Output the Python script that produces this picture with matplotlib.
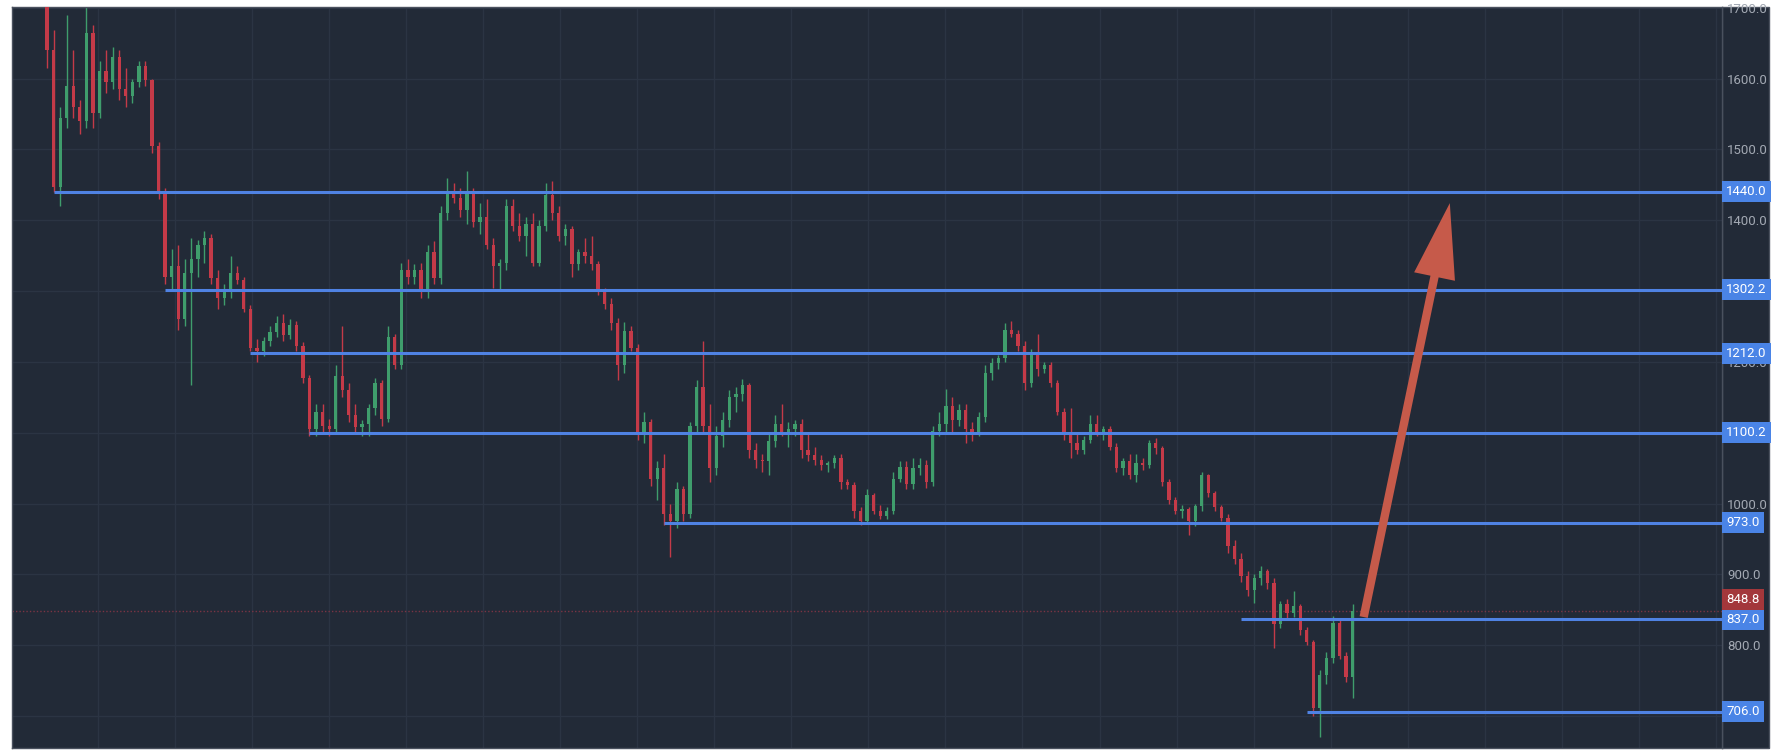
import matplotlib
matplotlib.use("Agg")
import matplotlib.pyplot as plt
from matplotlib.patches import FancyArrowPatch, Rectangle
import numpy as np

# daily candles (open of each candle = previous close)
first_open = 1720.0
closes = [1640, 1447, 1545, 1590, 1560, 1540, 1665, 1552, 1610, 1595,
          1630, 1585, 1575, 1595, 1618, 1598, 1505, 1440, 1320, 1335,
          1260, 1325, 1345, 1365, 1375, 1318, 1290, 1300, 1325, 1315,
          1275, 1220, 1215, 1230, 1242, 1255, 1238, 1252, 1222, 1178,
          1105, 1130, 1110, 1105, 1180, 1160, 1125, 1108, 1112, 1135,
          1170, 1120, 1235, 1195, 1330, 1320, 1330, 1300, 1355, 1318,
          1410, 1440, 1432, 1415, 1440, 1398, 1405, 1365, 1335, 1340,
          1420, 1392, 1378, 1395, 1340, 1392, 1435, 1410, 1378, 1388,
          1338, 1355, 1350, 1338, 1300, 1282, 1255, 1195, 1243, 1220,
          1098, 1115, 1035, 1050, 985, 975, 1020, 985, 1110, 1165,
          1110, 1050, 1095, 1118, 1150, 1155, 1168, 1075, 1062, 1060,
          1088, 1112, 1100, 1105, 1112, 1075, 1068, 1062, 1055, 1058,
          1064, 1030, 1026, 990, 976, 1012, 990, 982, 990, 1035,
          1052, 1028, 1050, 1055, 1030, 1102, 1112, 1138, 1118, 1132,
          1105, 1098, 1122, 1185, 1198, 1205, 1245, 1240, 1222, 1170,
          1210, 1190, 1195, 1170, 1130, 1098, 1085, 1075, 1090, 1112,
          1100, 1105, 1080, 1050, 1060, 1040, 1058, 1055, 1085, 1078,
          1030, 1005, 990, 992, 975, 996, 1040, 1015, 995, 980,
          940, 922, 898, 878, 895, 905, 888, 830, 858, 845,
          855, 822, 805, 712, 758, 782, 832, 785, 755, 848.8]
highs = [1740, 1668, 1560, 1690, 1640, 1570, 1704, 1675, 1625, 1640,
         1645, 1640, 1615, 1600, 1625, 1625, 1600, 1510, 1445, 1360,
         1365, 1345, 1375, 1372, 1385, 1380, 1330, 1310, 1350, 1335,
         1320, 1280, 1232, 1235, 1250, 1265, 1268, 1260, 1258, 1228,
         1182, 1140, 1140, 1120, 1195, 1250, 1170, 1140, 1118, 1140,
         1178, 1175, 1250, 1240, 1340, 1345, 1338, 1340, 1365, 1370,
         1420, 1460, 1452, 1445, 1470, 1445, 1425, 1430, 1375, 1345,
         1430, 1430, 1410, 1405, 1410, 1400, 1452, 1455, 1420, 1395,
         1392, 1360, 1375, 1378, 1342, 1305, 1290, 1262, 1257, 1250,
         1225, 1130, 1120, 1060, 1070, 1000, 1030, 1025, 1115, 1175,
         1230, 1140, 1110, 1130, 1160, 1165, 1176, 1170, 1085, 1070,
         1100, 1125, 1140, 1115, 1118, 1120, 1100, 1080, 1068, 1060,
         1068, 1070, 1035, 1030, 995, 1020, 1015, 998, 995, 1045,
         1060, 1060, 1065, 1065, 1062, 1110, 1130, 1162, 1150, 1140,
         1140, 1115, 1130, 1195, 1205, 1210, 1255, 1258, 1245, 1230,
         1218, 1240, 1200, 1200, 1175, 1135, 1135, 1100, 1095, 1125,
         1125, 1110, 1110, 1085, 1065, 1070, 1070, 1065, 1090, 1092,
         1082, 1035, 1010, 998, 995, 1000, 1045, 1042, 1018, 998,
         985, 948, 930, 905, 900, 912, 908, 895, 862, 866,
         876, 858, 826, 808, 765, 790, 842, 838, 790, 858]
lows = [1615, 1440, 1420, 1530, 1545, 1522, 1530, 1530, 1545, 1580,
        1585, 1570, 1560, 1565, 1588, 1590, 1495, 1430, 1310, 1300,
        1245, 1250, 1167, 1320, 1340, 1310, 1275, 1280, 1290, 1310,
        1270, 1215, 1200, 1208, 1222, 1235, 1230, 1232, 1215, 1170,
        1095, 1095, 1100, 1095, 1100, 1150, 1115, 1100, 1095, 1096,
        1125, 1110, 1115, 1190, 1190, 1310, 1310, 1290, 1290, 1310,
        1310, 1400, 1425, 1405, 1395, 1390, 1380, 1360, 1305, 1302,
        1330, 1385, 1370, 1350, 1335, 1335, 1385, 1400, 1370, 1365,
        1320, 1330, 1340, 1330, 1295, 1275, 1245, 1175, 1185, 1215,
        1090, 1085, 1025, 1005, 970, 925, 965, 975, 980, 1100,
        1100, 1030, 1040, 1080, 1108, 1130, 1145, 1065, 1050, 1045,
        1040, 1080, 1095, 1080, 1095, 1065, 1060, 1055, 1048, 1045,
        1050, 1020, 1020, 980, 970, 972, 985, 978, 978, 985,
        1030, 1020, 1020, 1040, 1022, 1025, 1095, 1100, 1100, 1110,
        1085, 1088, 1095, 1115, 1175, 1190, 1200, 1235, 1215, 1160,
        1165, 1180, 1185, 1165, 1125, 1090, 1065, 1070, 1070, 1085,
        1095, 1090, 1075, 1045, 1040, 1035, 1030, 1048, 1050, 1070,
        1025, 1000, 985, 980, 955, 968, 990, 1010, 990, 975,
        930, 915, 890, 870, 860, 885, 880, 796, 825, 838,
        840, 815, 800, 700, 671, 745, 775, 780, 748, 725]

# horizontal support / resistance rays: price and the candle they start from
levels = [1440.0, 1302.2, 1212.0, 1100.2, 973.0, 837.0, 706.0]
level_starts = [1, 18, 31, 40, 94, 182, 192]
last_price = 848.8
price_ticks = [700, 800, 900, 1000, 1100, 1200, 1300, 1400, 1500, 1600, 1700]

# projected move arrow (candle index, price)
arrow_start = (200.6, 836.0)
arrow_end = (213.9, 1428.0)

BG = "#222a37"
GRID = "#2b3443"
UP = "#3f9d6c"
DOWN = "#c43a48"
BLUE = "#4f82e3"
LABEL_BLUE = "#4a84e6"
LAST_RED = "#a3373b"
ARROW = "#c65a4a"

plt.rcParams["font.family"] = ["Liberation Sans Narrow", "Roboto", "DejaVu Sans"]

W, H = 1778, 754
fig = plt.figure(figsize=(W / 100, H / 100), dpi=100, facecolor="white")

# plot area in pixels: x 12..1722, y 7..748
ax = fig.add_axes([12 / W, (H - 748) / H, 1710 / W, 741 / H])
ax.set_facecolor(BG)

# price scale strip on the right
fig.add_artist(Rectangle((1722 / W, (H - 748) / H), 47 / W, 741 / H,
                         transform=fig.transFigure, facecolor=BG,
                         edgecolor="#4a515e", linewidth=1, zorder=0))

x_left, x_right = -5.34, 255.3
ax.set_xlim(x_left, x_right)
ax.set_ylim(655, 1701)

closes = np.array(closes, dtype=float)
highs = np.array(highs, dtype=float)
lows = np.array(lows, dtype=float)
opens = np.concatenate([[first_open], closes[:-1]])
idx = np.arange(len(closes))
colors = np.where(closes >= opens, UP, DOWN)

# grid
ax.set_xticks(np.arange(7.8, x_right, 11.74))
ax.set_yticks(price_ticks)
ax.grid(True, color=GRID, linewidth=1)
ax.set_axisbelow(True)

# candles
ax.vlines(idx, lows, highs, colors=colors, linewidth=1.0, zorder=2)
body = np.maximum(np.abs(closes - opens), 1.5)
ax.bar(idx, body, bottom=np.minimum(opens, closes), width=0.5,
       color=colors, linewidth=0, zorder=3)

# last price dotted line
ax.axhline(last_price, color="#7a3444", linestyle=(0, (1, 1.5)),
           linewidth=1, zorder=1.5)

# level rays
ax.hlines(levels, level_starts, x_right, colors=BLUE, linewidth=2.2, zorder=4)

# arrow
arrow = FancyArrowPatch(arrow_start, arrow_end,
                        arrowstyle="simple,head_length=54,head_width=30,tail_width=6",
                        mutation_scale=1, color=ARROW, linewidth=0,
                        capstyle="round", zorder=6)
ax.add_patch(arrow)

# price axis on the right
ax.yaxis.tick_right()
ax.set_yticklabels([f"{v:.1f}" for v in price_ticks])
ax.tick_params(axis="y", length=0, pad=3.6, labelsize=9.5, labelcolor="#a3a9b3")
ax.tick_params(axis="x", length=0, labelbottom=False)
for side, sp in ax.spines.items():
    sp.set_color("#4a515e")
    sp.set_linewidth(1)

trans = ax.get_yaxis_transform()
for lvl in levels:
    ax.text(1.0025, lvl, f"{lvl:.1f}", transform=trans, ha="left", va="center",
            color="white", fontsize=9.5, clip_on=False, zorder=10,
            bbox=dict(boxstyle="square,pad=0.3", fc=LABEL_BLUE, ec="none"))
ax.text(1.0025, last_price + 16, f"{last_price:.1f}", transform=trans, ha="left",
        va="center", color="white", fontsize=9.5, clip_on=False, zorder=10,
        bbox=dict(boxstyle="square,pad=0.3", fc=LAST_RED, ec="none"))

fig.savefig("out.png", dpi=100, facecolor="white")
